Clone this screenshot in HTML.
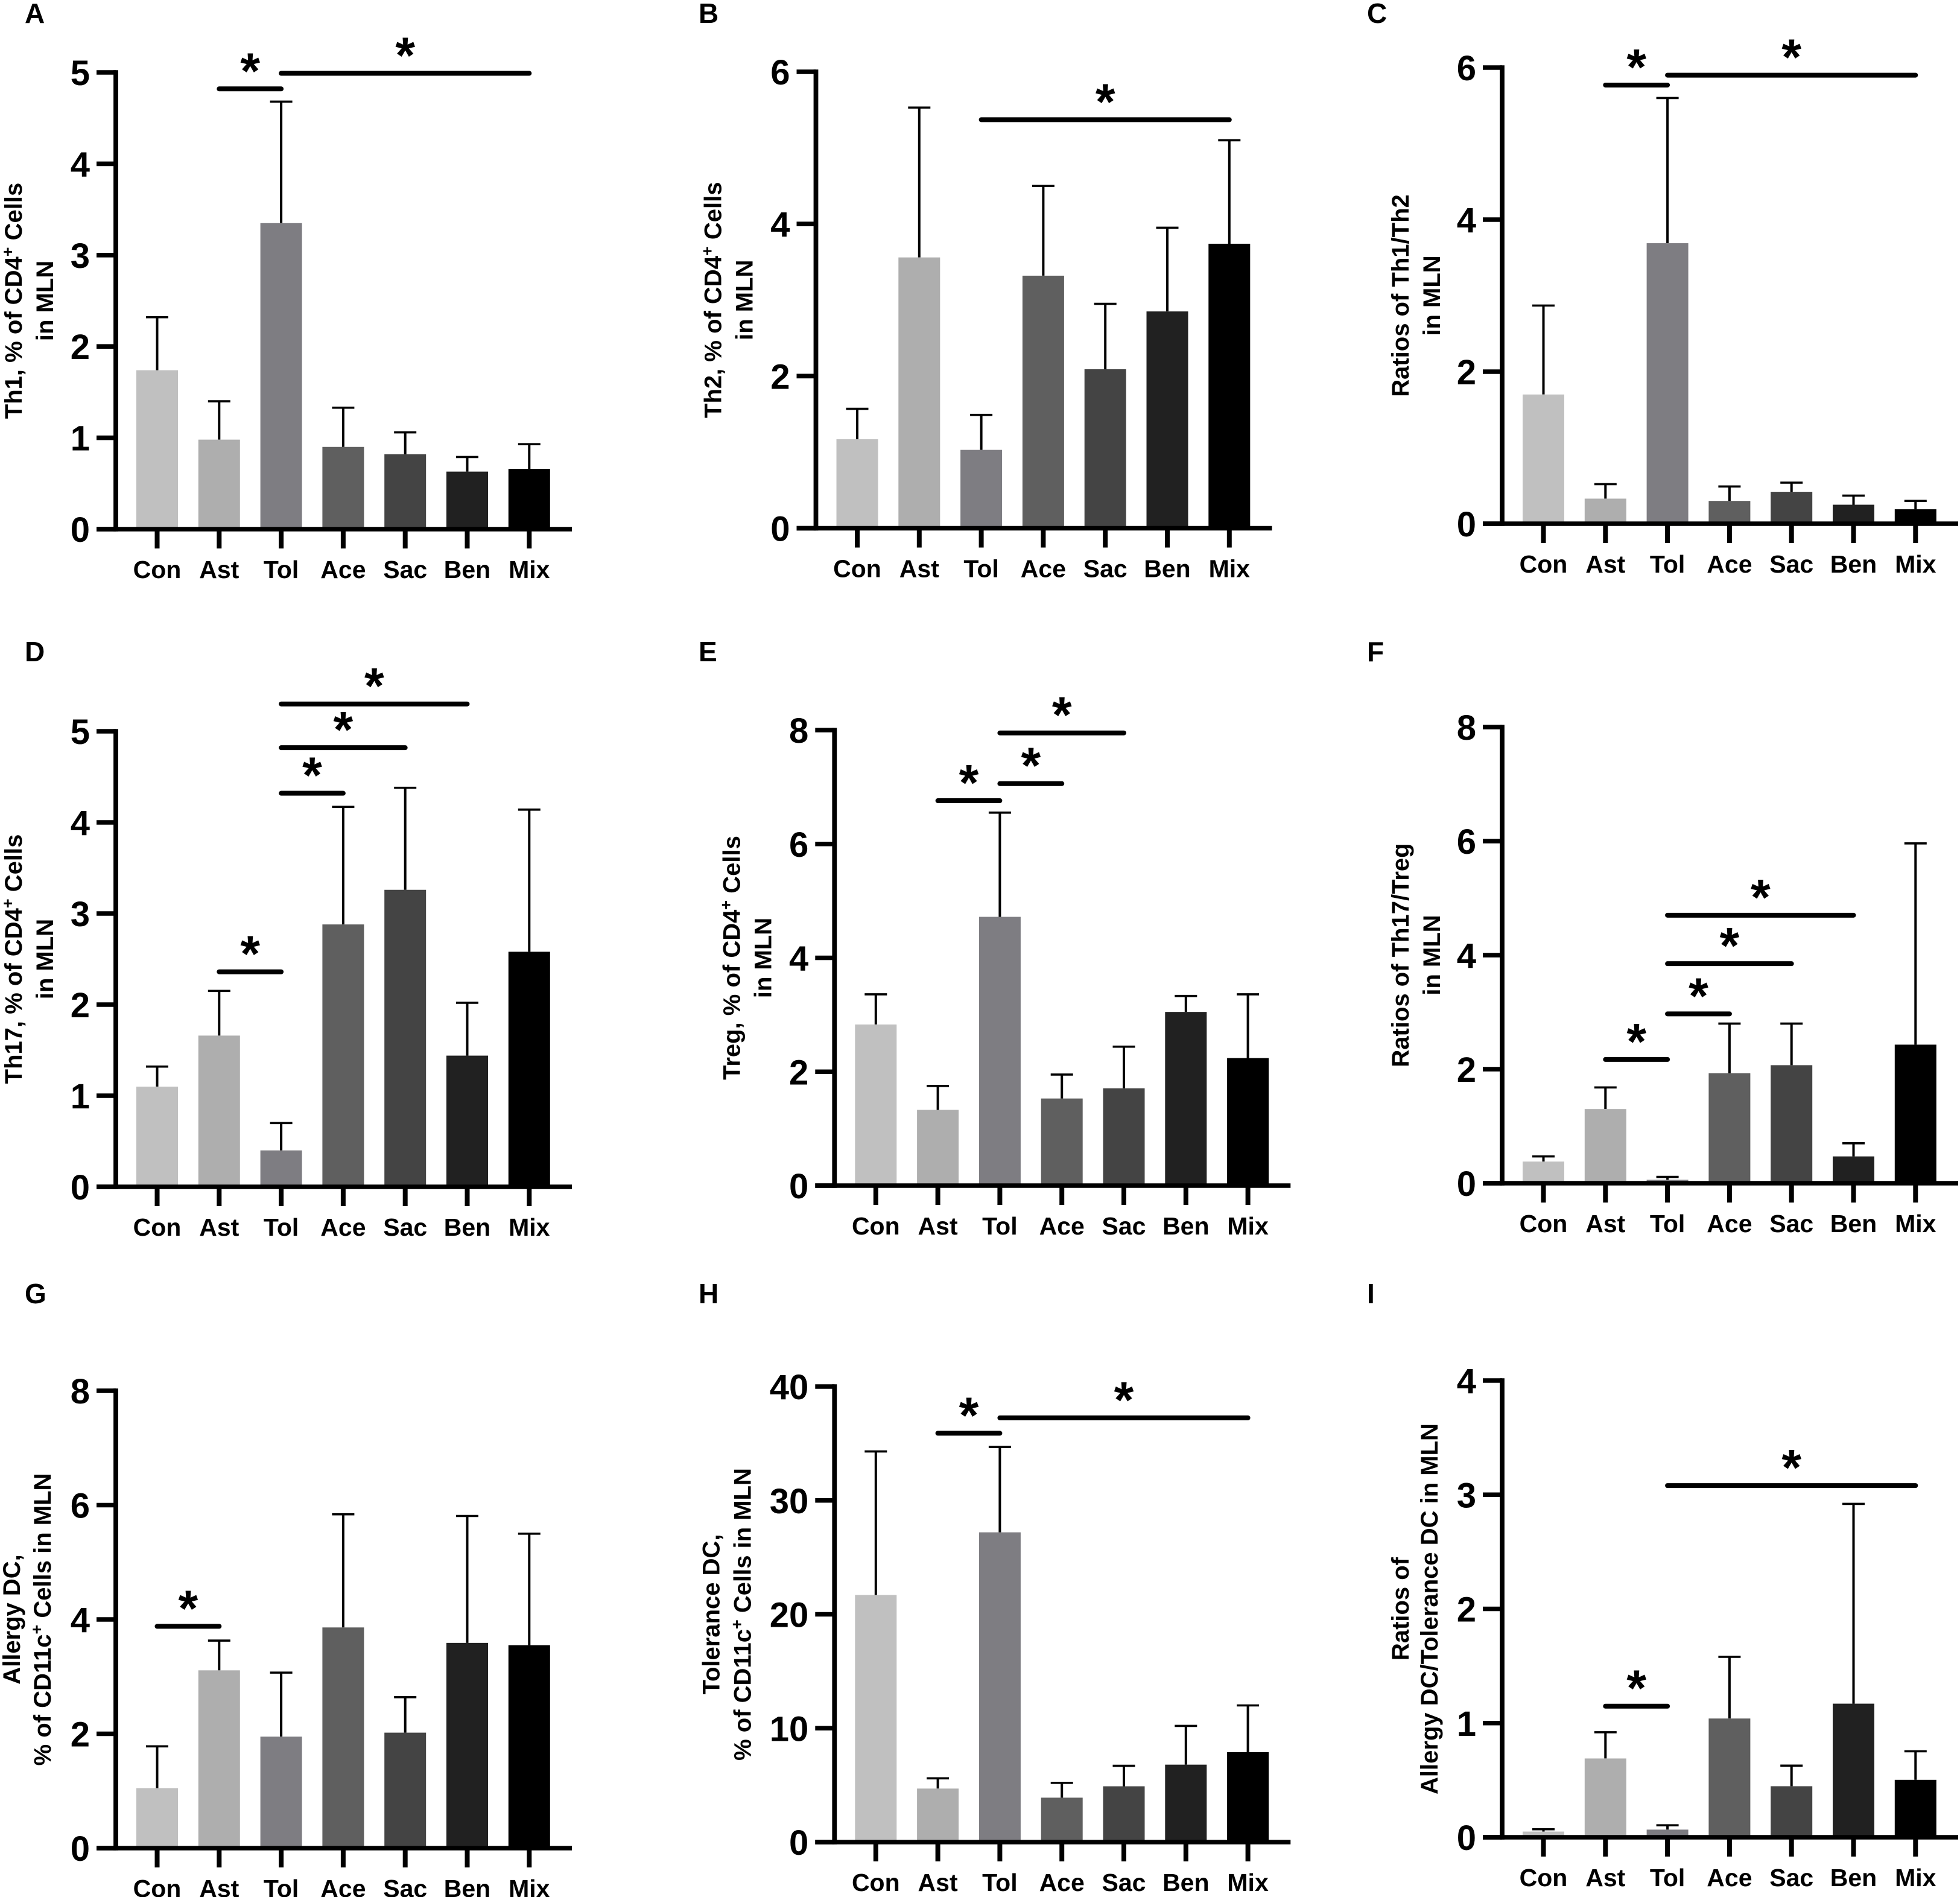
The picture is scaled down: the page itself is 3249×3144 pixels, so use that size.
<!DOCTYPE html>
<html lang="en">
<head>
<meta charset="utf-8">
<title>Immune cell populations in MLN</title>
<style>
html,body{margin:0;padding:0;background:#fff;}
svg{display:block;}
text{font-family:"Liberation Sans",Arial,sans-serif;font-weight:bold;fill:#000;}
</style>
</head>
<body>
<svg id="figure" xmlns="http://www.w3.org/2000/svg" width="3249" height="3144" viewBox="0 0 3249 3144"></svg>
<script>
const categories = ['Con','Ast','Tol','Ace','Sac','Ben','Mix'];
const barColors = ['#c0c0c0','#aeaeae','#7e7d82','#5f5f5f','#444444','#212121','#000000'];

const meansA = [1.74,0.98,3.35,0.90,0.82,0.63,0.66];
const upperA = [2.32,1.40,4.68,1.33,1.06,0.79,0.93];
const ticksA = [0,1,2,3,4,5];
const sigA = [[1,2,4.82],[2,6,4.99]];

const meansB = [1.17,3.56,1.03,3.32,2.09,2.85,3.74];
const upperB = [1.57,5.53,1.49,4.50,2.95,3.95,5.10];
const ticksB = [0,2,4,6];
const sigB = [[2,6,5.37]];

const meansC = [1.70,0.33,3.69,0.30,0.42,0.25,0.19];
const upperC = [2.87,0.52,5.60,0.49,0.54,0.37,0.30];
const ticksC = [0,2,4,6];
const sigC = [[1,2,5.77],[2,6,5.90]];

const meansD = [1.10,1.66,0.40,2.88,3.26,1.44,2.58];
const upperD = [1.32,2.15,0.70,4.17,4.38,2.02,4.14];
const ticksD = [0,1,2,3,4,5];
const sigD = [[1,2,2.36],[2,3,4.32],[2,4,4.82],[2,5,5.30]];

const meansE = [2.83,1.33,4.72,1.53,1.71,3.05,2.24];
const upperE = [3.36,1.75,6.55,1.95,2.44,3.33,3.36];
const ticksE = [0,2,4,6,8];
const sigE = [[1,2,6.76],[2,3,7.06],[2,4,7.95]];

const meansF = [0.38,1.30,0.06,1.93,2.07,0.47,2.43];
const upperF = [0.47,1.68,0.11,2.80,2.80,0.70,5.96];
const ticksF = [0,2,4,6,8];
const sigF = [[1,2,2.17],[2,3,2.97],[2,4,3.85],[2,5,4.70]];

const meansG = [1.05,3.11,1.95,3.86,2.02,3.59,3.55];
const upperG = [1.78,3.63,3.07,5.84,2.64,5.81,5.50];
const ticksG = [0,2,4,6,8];
const sigG = [[0,1,3.88]];

const meansH = [21.7,4.7,27.2,3.9,4.9,6.8,7.9];
const upperH = [34.3,5.6,34.7,5.2,6.7,10.2,12.0];
const ticksH = [0,10,20,30,40];
const sigH = [[1,2,35.9],[2,6,37.25]];

const meansI = [0.05,0.69,0.067,1.04,0.447,1.17,0.503];
const upperI = [0.07,0.92,0.105,1.58,0.627,2.92,0.753];
const ticksI = [0,1,2,3,4];
const sigI = [[1,2,1.148],[2,6,3.08]];

const panels = [
 {id:'A',lx:41,ly:38,ax:192,y0:877,yTop:120,off:68.5,t1:-169,t2:-117,title:['Th1, % of CD4|+| Cells','in MLN'],means:meansA,upper:upperA,ticks:ticksA,sig:sigA},
 {id:'B',lx:1158,ly:38,ax:1352.5,y0:875.5,yTop:119,off:68.5,t1:-170,t2:-118,title:['Th2, % of CD4|+| Cells','in MLN'],means:meansB,upper:upperB,ticks:ticksB,sig:sigB},
 {id:'C',lx:2266,ly:38,ax:2490,y0:868,yTop:112,off:68.5,t1:-168,t2:-116,title:['Ratios of Th1/Th2','in MLN'],means:meansC,upper:upperC,ticks:ticksC,sig:sigC},
 {id:'D',lx:41,ly:1096,ax:192,y0:1967,yTop:1212,off:68.5,t1:-169,t2:-117,title:['Th17, % of CD4|+| Cells','in MLN'],means:meansD,upper:upperD,ticks:ticksD,sig:sigD},
 {id:'E',lx:1158,ly:1096,ax:1383.3,y0:1965,yTop:1210,off:68.5,t1:-170,t2:-118,title:['Treg, % of CD4|+| Cells','in MLN'],means:meansE,upper:upperE,ticks:ticksE,sig:sigE},
 {id:'F',lx:2266,ly:1096,ax:2490,y0:1961,yTop:1205,off:68.5,t1:-168,t2:-116,title:['Ratios of Th17/Treg','in MLN'],means:meansF,upper:upperF,ticks:ticksF,sig:sigF},
 {id:'G',lx:41,ly:2160,ax:192,y0:3063,yTop:2305,off:68.5,t1:-172,t2:-121,title:['Allergy DC,','% of CD11c|+| Cells in MLN'],means:meansG,upper:upperG,ticks:ticksG,sig:sigG},
 {id:'H',lx:1158,ly:2160,ax:1383.3,y0:3053,yTop:2298,off:68.5,t1:-204,t2:-152,title:['Tolerance DC,','% of CD11c|+| Cells in MLN'],means:meansH,upper:upperH,ticks:ticksH,sig:sigH},
 {id:'I',lx:2266,ly:2160,ax:2490,y0:3045,yTop:2288,off:68.5,t1:-168,t2:-120,title:['Ratios of','Allergy DC/Tolerance DC in MLN'],means:meansI,upper:upperI,ticks:ticksI,sig:sigI}
];

const NS = 'http://www.w3.org/2000/svg';
const STEP = 102.8, BAR_W = 69, CAP_W = 37;
const figure = document.getElementById('figure');

function make(tag, parent, attrs, txt) {
  const el = document.createElementNS(NS, tag);
  for (const k in attrs) el.setAttribute(k, attrs[k]);
  if (txt !== undefined) el.textContent = txt;
  parent.appendChild(el);
  return el;
}

panels.forEach(function (p) {
  const tMax = p.ticks[p.ticks.length - 1];
  const yScale = function (v) { return p.y0 - (v / tMax) * (p.y0 - p.yTop); };
  const xScale = function (i) { return p.ax + p.off + i * STEP; };

  const g = make('g', figure, {});
  
  

  const letter = make('text', g, {x: p.lx, y: p.ly, 'font-size': 46}, p.id);
  
  

  // bars and error bars
  categories.forEach(function (c, i) {
    const x = xScale(i), top = yScale(p.means[i]), up = yScale(p.upper[i]);
    const stem = make('line', g, {x1: x, x2: x, y1: top, y2: up, stroke: '#000', 'stroke-width': 4});
    
    
    const cap = make('line', g, {x1: x - CAP_W / 2, x2: x + CAP_W / 2, y1: up, y2: up, stroke: '#000', 'stroke-width': 3.6});
    
    
    const bar = make('rect', g, {x: x - BAR_W / 2, y: top, width: BAR_W, height: p.y0 - top, fill: barColors[i]});
    
    
    const tick = make('line', g, {x1: x, x2: x, y1: p.y0, y2: p.y0 + 32, stroke: '#000', 'stroke-width': 8});
    
    
    const lab = make('text', g, {x: x, y: p.y0 + 81, 'font-size': 41, 'text-anchor': 'middle'}, c);
    
    
  });

  // axes
  const yAxis = make('line', g, {x1: p.ax, x2: p.ax, y1: p.yTop - 3.75, y2: p.y0 + 3.75, stroke: '#000', 'stroke-width': 7.8});
  
  
  const xAxis = make('line', g, {x1: p.ax - 32, x2: p.ax + 756, y1: p.y0, y2: p.y0, stroke: '#000', 'stroke-width': 7.6});
  
  

  p.ticks.forEach(function (t) {
    const y = yScale(t);
    const tk = make('line', g, {x1: p.ax - 32, x2: p.ax, y1: y, y2: y, stroke: '#000', 'stroke-width': 7.6});
    
    
    const lb = make('text', g, {x: p.ax - 43, y: y + 21, 'font-size': 58, 'text-anchor': 'end'}, String(t));
    
    
  });

  // axis title
  const cy = (p.y0 + p.yTop) / 2;
  [p.t1, p.t2].forEach(function (dx, n) {
    const tx = p.ax + dx + 13;
    const title = make('text', g, {
      x: tx, y: cy, 'font-size': 40, 'text-anchor': 'middle',
      transform: 'rotate(-90 ' + tx + ' ' + cy + ')'
    });
    
    
    const parts = p.title[n].split('|');
    parts.forEach(function (s, k) {
      if (k === 1) {
        make('tspan', title, {dy: -14, 'font-size': 27}, s);
      } else if (k === 2) {
        make('tspan', title, {dy: 14}, s);
      } else {
        make('tspan', title, {}, s);
      }
    });
  });

  // significance markers
  p.sig.forEach(function (s) {
    const xa = xScale(s[0]), xb = xScale(s[1]), y = yScale(s[2]);
    const ln = make('line', g, {x1: xa, x2: xb, y1: y, y2: y, stroke: '#000', 'stroke-width': 8, 'stroke-linecap': 'round'});
    
    
    const st = make('text', g, {x: (xa + xb) / 2, y: y - 1, 'font-size': 84, 'text-anchor': 'middle'}, '*');
    
    
  });
});
</script>
</body>
</html>
